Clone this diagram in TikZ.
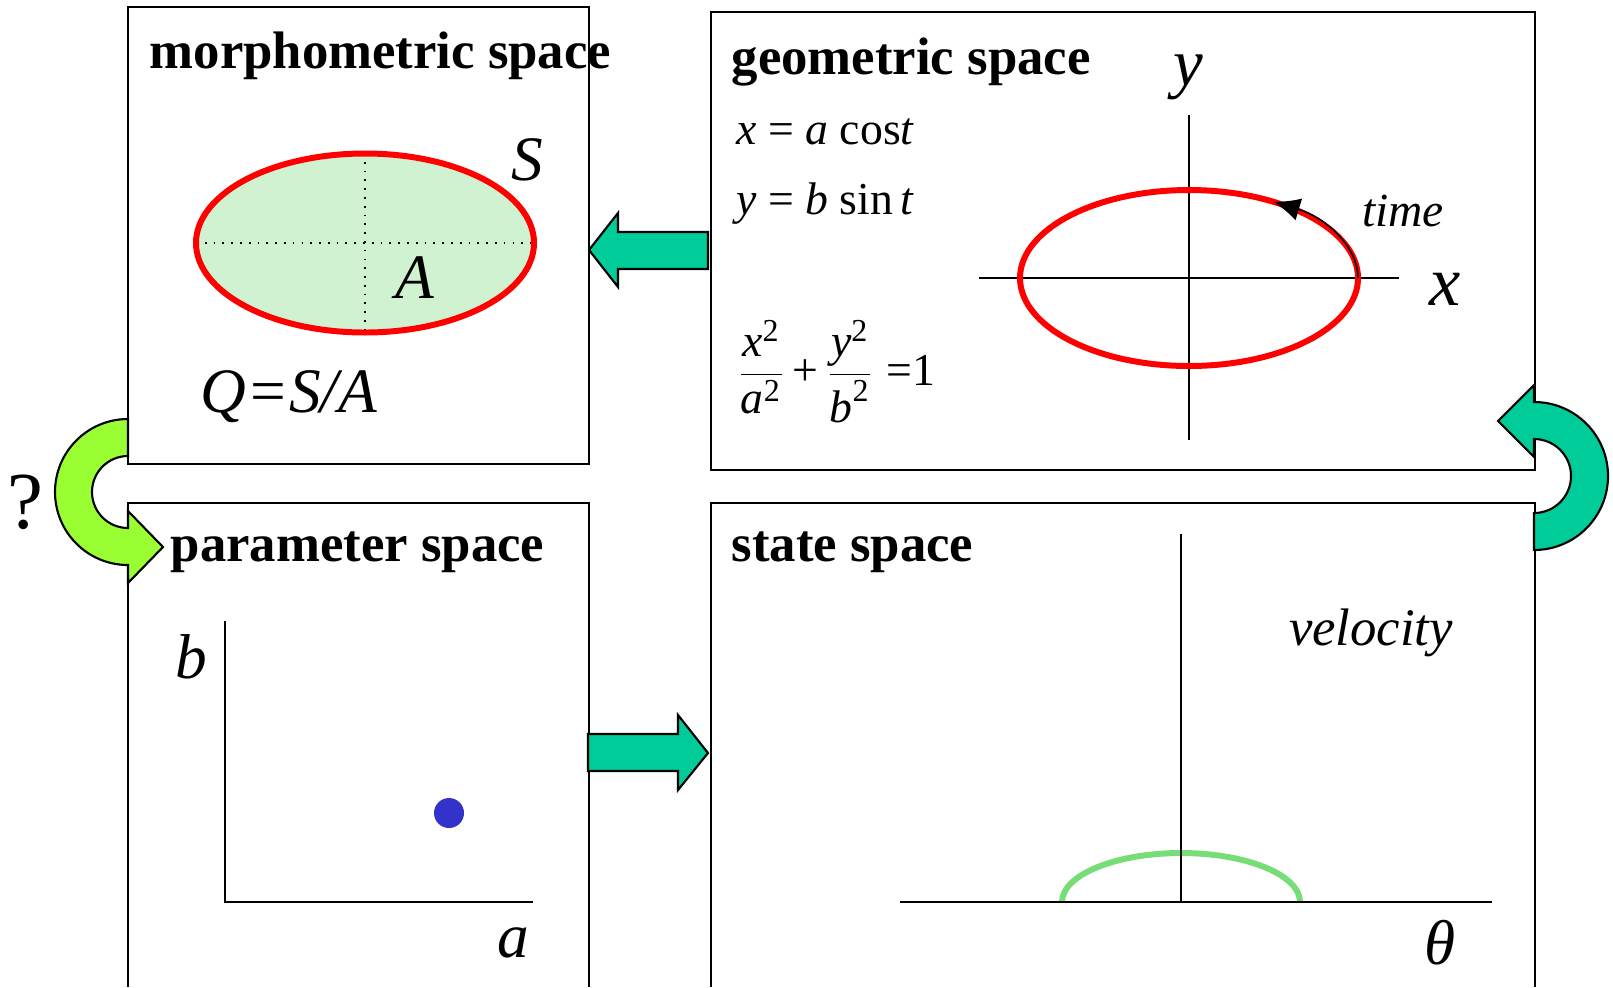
\documentclass[tikz,border=0pt]{standalone}
\usepackage{fontspec}
\setmainfont{Liberation Serif}
\usepackage{amsmath}
\usetikzlibrary{arrows.meta}

\definecolor{arrowteal}{RGB}{0,204,153}
\definecolor{arrowlime}{RGB}{153,255,51}
\definecolor{areagreen}{RGB}{208,242,208}
\definecolor{curvegreen}{RGB}{119,221,119}
\definecolor{dotblue}{RGB}{51,51,204}

\newcommand{\mi}[1]{\text{\itshape #1}}

\tikzset{
  spacebox/.style={line width=0.6pt},
  spacetitle/.style={anchor=base west, inner sep=0pt, font=\fontsize{15}{18}\selectfont\bfseries},
  varlabel/.style={inner sep=0pt, font=\fontsize{18}{22}\selectfont\itshape},
  eqn/.style={anchor=base west, inner sep=0pt, font=\fontsize{13}{16}\selectfont},
  axis/.style={line width=0.5pt},
  orbit/.style={draw=red, line width=1.7pt},
  blockarrow/.style={draw=black, line width=0.6pt, fill=arrowteal, line join=miter},
}

\begin{document}
\begin{tikzpicture}[x=0.01cm, y=-0.01cm]
\useasboundingbox (0,0) rectangle (1613,987);

% the four spaces
\draw[spacebox] (128,7) rectangle (589,464);
\draw[spacebox] (711,12) rectangle (1535,470);
\draw[spacebox] (128,987) -- (128,503) -- (589,503) -- (589,987);
\draw[spacebox] (711,987) -- (711,503) -- (1535,503) -- (1535,987);

\node[spacetitle] (morphtitle) at (149,68) {morphometric space};
\node[spacetitle] (geomtitle) at (731,74) {geometric space};
\node[spacetitle] (paramtitle) at (170,561) {parameter space};
\node[spacetitle] (statetitle) at (731,561) {state space};

% morphometric space
\fill[areagreen] (365,243) ellipse [x radius=169, y radius=89.5];
\draw[dotted, line width=0.5pt] (196,243) -- (534,243);
\draw[dotted, line width=0.5pt] (365,153) -- (365,332);
\draw[orbit] (365,243) ellipse [x radius=169, y radius=89.5];
\node[varlabel] (perim) at (527,160) {S};
\node[varlabel] (area) at (415,278) {A};
\node[varlabel] (ratio) at (289,397) {Q=S/A};

% geometric space
\draw[axis] (979,278) -- (1399,278);
\draw[axis] (1189,115) -- (1189,440);
\draw[orbit] (1189,278) ellipse [x radius=169, y radius=88];
\draw[line width=0.45pt, -{Latex[length=7.5pt, width=6.5pt]}]
  (1189,278) ++(0:169 and 88) arc[start angle=0, end angle=-60, x radius=169, y radius=88];
\node[inner sep=0pt, font=\fontsize{19}{23}\selectfont\itshape] (ylabel) at (1188,77) {y};
\node[inner sep=0pt, font=\fontsize{20}{24}\selectfont\itshape] (xlabel) at (1445,289) {x};
\node[inner sep=0pt, font=\fontsize{13.5}{16}\selectfont\itshape] (timelabel) at (1403,211) {time};
\node[eqn] (xeq) at (736,144) {\textit{x} = \textit{a} cos\textit{t}};
\node[eqn] (yeq) at (736,214) {\textit{y} = \textit{b} sin\,\textit{t}};
\node[eqn] (ellipseeq) at (736,385)
  {$\dfrac{\mi{x}^{\text{2}}}{\mi{a}^{\text{2}}}\,\text{+}\,\dfrac{\mi{y}^{\text{2}}}{\mi{b}^{\text{2}}}\;\text{=1}$};

% parameter space
\draw[axis] (225,621) -- (225,902) -- (533,902);
\fill[dotblue] (449,813) circle [radius=15];
\node[varlabel] (blabel) at (191,657) {b};
\node[varlabel] (alabel) at (513,943) {a};

% state space
\draw[line width=1.7pt, curvegreen] (1062,902) arc[start angle=180, end angle=360, x radius=119, y radius=49];
\draw[axis] (1181,534) -- (1181,902);
\draw[axis] (900,902) -- (1492,902);
\node[inner sep=0pt, font=\fontsize{15}{18}\selectfont\itshape] (vlabel) at (1371,633) {velocity};
\node[varlabel] (thetalabel) at (1440,943) {θ};

% arrows between the spaces
\draw[blockarrow] (589,250) -- (618,213) -- (618,232) -- (708,232) -- (708,269) -- (618,269) -- (618,287) -- cycle;
\draw[blockarrow] (588,734) -- (678,734) -- (678,715) -- (708,753) -- (678,790) -- (678,771) -- (588,771) -- cycle;
\draw[blockarrow] (1534,402) arc[start angle=-90, end angle=90, radius=74] -- (1534,513)
  arc[start angle=90, end angle=-90, radius=37] -- (1534,457) -- (1498,421) -- (1534,385) -- cycle;
\draw[blockarrow, fill=arrowlime] (128,419) arc[start angle=270, end angle=90, radius=73] -- (128,583)
  -- (163,547) -- (128,511) -- (128,528) arc[start angle=90, end angle=270, radius=36] -- cycle;
\node[inner sep=0pt, font=\fontsize{23}{27}\selectfont] (question) at (25,502) {?};
\end{tikzpicture}
\end{document}
